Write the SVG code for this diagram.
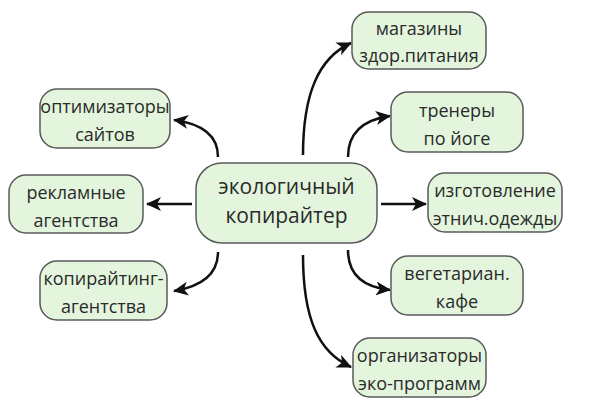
<svg xmlns="http://www.w3.org/2000/svg" width="595" height="408" viewBox="0 0 595 408">
<defs>
<style>
.n rect{fill:#e3f5dd;stroke:#5a5a5a;stroke-width:1.5}
.n text{font-family:"Open Sans","Noto Sans",sans-serif;font-size:18px;fill:#2a2a2a;text-anchor:middle}
.c text{font-size:21px}
.e path{fill:none;stroke:#111;stroke-width:2.5;marker-end:url(#ah)}
</style>
<marker id="ah" markerUnits="userSpaceOnUse" markerWidth="16" markerHeight="14" viewBox="0 0 16 14" refX="14" refY="7" orient="auto">
<path d="M0,0 L15,7 L0,14 L4,7 z" fill="#111"/>
</marker>
</defs>
<rect width="595" height="408" fill="#fff"/>
<g id="edges" class="e">
<path d="M303,155 C303,95 318,58 351,43"/>
<path d="M348,157 C348,134 362,120 390,116"/>
<path d="M381,204 L426,204"/>
<path d="M348,250 C348,273 362,287 390,290"/>
<path d="M303,255 C303,318 318,352 351,367"/>
<path d="M218,157 C218,137 204,124 174,120"/>
<path d="M192,204 L147,204"/>
<path d="M218,252 C218,273 204,286 174,291"/>
</g>
<g id="center" class="n c">
<rect x="196" y="163" width="181" height="80" rx="26"/>
<text x="286.5" y="194">экологичный</text>
<text x="286.5" y="223">копирайтер</text>
</g>
<g id="n-shops" class="n">
<rect x="352" y="12" width="134" height="57" rx="17"/>
<text x="419" y="35">магазины</text>
<text x="419" y="62">здор.питания</text>
</g>
<g id="n-yoga" class="n">
<rect x="391" y="92" width="132" height="60" rx="17"/>
<text x="457" y="117">тренеры</text>
<text x="457" y="145">по йоге</text>
</g>
<g id="n-ethnic" class="n">
<rect x="428" y="173" width="134" height="59" rx="17"/>
<text x="495" y="197">изготовление</text>
<text x="495" y="225">этнич.одежды</text>
</g>
<g id="n-veg" class="n">
<rect x="391" y="256" width="132" height="59" rx="17"/>
<text x="457" y="280">вегетариан.</text>
<text x="457" y="308">кафе</text>
</g>
<g id="n-eco" class="n">
<rect x="353" y="338" width="133" height="59" rx="17"/>
<text x="419.5" y="362">организаторы</text>
<text x="419.5" y="390">эко-программ</text>
</g>
<g id="n-seo" class="n">
<rect x="40" y="89" width="130" height="59" rx="17"/>
<text x="105" y="113">оптимизаторы</text>
<text x="105" y="141">сайтов</text>
</g>
<g id="n-ads" class="n">
<rect x="9" y="175" width="134" height="58" rx="17"/>
<text x="76" y="199">рекламные</text>
<text x="76" y="227">агентства</text>
</g>
<g id="n-copy" class="n">
<rect x="40" y="261" width="127" height="59" rx="17"/>
<text x="103.5" y="285">копирайтинг-</text>
<text x="103.5" y="313">агентства</text>
</g>
</svg>
